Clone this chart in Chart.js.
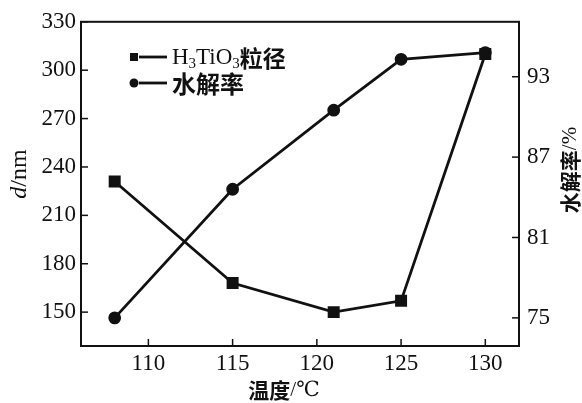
<!DOCTYPE html>
<html>
<head>
<meta charset="utf-8">
<script src="https://cdn.jsdelivr.net/npm/chart.js@4"></script>
<style>
  html, body { margin: 0; padding: 0; background: #fff; }
  #wrap { width: 582px; height: 403px; position: relative; }
</style>
</head>
<body>
<div id="wrap"><canvas id="chart"></canvas></div>
<script>
// values
const temps = [108, 115, 121, 125, 130];
const particleSize = [231, 168, 150, 157, 310];   // d/nm, left axis
const hydrolysisRate = [75.0, 84.6, 90.5, 94.3, 94.8]; // %, right axis

const xTicks = [110, 115, 120, 125, 130];
const leftTicks = [150, 180, 210, 240, 270, 300, 330];
const rightTicks = [75, 81, 87, 93];

const SERIF = "'Liberation Serif', 'DejaVu Serif', serif";
const CJK = "'Noto Sans CJK SC', sans-serif";
const INK = '#111';

function line(ctx, x1, y1, x2, y2) {
  ctx.beginPath();
  ctx.moveTo(x1, y1);
  ctx.lineTo(x2, y2);
  ctx.stroke();
}

// draws a run of [text, font, dy] pieces starting at x
function drawPieces(ctx, pieces, x, y) {
  let cx = x;
  for (const [text, font, dy] of pieces) {
    ctx.font = font;
    ctx.fillText(text, cx, y + (dy || 0));
    cx += ctx.measureText(text).width;
  }
}

function piecesWidth(ctx, pieces) {
  let w = 0;
  for (const [text, font] of pieces) {
    ctx.font = font;
    w += ctx.measureText(text).width;
  }
  return w;
}

const decor = {
  id: 'decor',
  afterDraw(chart) {
    const { ctx, chartArea: a, scales } = chart;
    ctx.save();
    ctx.strokeStyle = INK;
    ctx.fillStyle = INK;

    // frame
    ctx.lineWidth = 2;
    ctx.strokeRect(a.left, a.top, a.right - a.left, a.bottom - a.top);

    // inward ticks
    ctx.lineWidth = 1.5;
    scales.x.ticks.forEach(t => {
      const px = scales.x.getPixelForValue(t.value);
      line(ctx, px, a.bottom, px, a.bottom - 7);
    });
    scales.y.ticks.forEach(t => {
      const py = scales.y.getPixelForValue(t.value);
      line(ctx, a.left, py, a.left + 7, py);
    });
    scales.y1.ticks.forEach(t => {
      const py = scales.y1.getPixelForValue(t.value);
      line(ctx, a.right, py, a.right - 7, py);
    });

    // legend
    ctx.textBaseline = 'middle';
    ctx.lineWidth = 2.8;
    const lx = 134, ly1 = 57, ly2 = 83;
    ctx.fillRect(lx - 4, ly1 - 4, 8, 8);
    line(ctx, lx + 5, ly1, lx + 33, ly1);
    ctx.beginPath();
    ctx.arc(lx, ly2, 4.5, 0, Math.PI * 2);
    ctx.fill();
    line(ctx, lx + 5, ly2, lx + 33, ly2);
    const big = `23px ${SERIF}`, sub = `15px ${SERIF}`;
    drawPieces(ctx, [
      ['H', big], ['3', sub, 6], ['TiO', big], ['3', sub, 6], ['粒径', `bold 23px ${CJK}`]
    ], 172, ly1 + 1);
    drawPieces(ctx, [['水解率', `bold 24px ${CJK}`]], 172, ly2 + 1);

    // x title
    const xt = [['温度', `bold 21px ${CJK}`], ['/℃', `21px ${SERIF}`]];
    drawPieces(ctx, xt, 284 - piecesWidth(ctx, xt) / 2, 390);

    // left title, reads bottom to top
    const lt = [['d', `italic 24px ${SERIF}`], ['/nm', `24px ${SERIF}`]];
    ctx.save();
    ctx.translate(20, 174);
    ctx.rotate(-Math.PI / 2);
    drawPieces(ctx, lt, -piecesWidth(ctx, lt) / 2, 0);
    ctx.restore();

    // right title, also bottom to top
    const rt = [['水解率', `bold 21px ${CJK}`], ['/%', `21px ${SERIF}`]];
    ctx.save();
    ctx.translate(570, 170);
    ctx.rotate(-Math.PI / 2);
    drawPieces(ctx, rt, -piecesWidth(ctx, rt) / 2, 0);
    ctx.restore();

    ctx.restore();
  }
};

const tickFont = { family: SERIF, size: 23 };

new Chart(document.getElementById('chart'), {
  type: 'line',
  data: {
    datasets: [
      {
        label: 'H3TiO3粒径',
        data: temps.map((t, i) => ({ x: t, y: particleSize[i] })),
        yAxisID: 'y',
        borderColor: INK,
        backgroundColor: INK,
        borderWidth: 2.8,
        pointStyle: 'rect',
        pointRadius: 6.5,
        pointHoverRadius: 6.5,
        tension: 0,
        clip: false
      },
      {
        label: '水解率',
        data: temps.map((t, i) => ({ x: t, y: hydrolysisRate[i] })),
        yAxisID: 'y1',
        borderColor: INK,
        backgroundColor: INK,
        borderWidth: 2.8,
        pointStyle: 'circle',
        pointRadius: 5,
        pointHoverRadius: 5,
        tension: 0,
        clip: false
      }
    ]
  },
  options: {
    responsive: true,
    maintainAspectRatio: false,
    animation: false,
    layout: { padding: { top: 20, left: 0, right: 0, bottom: 0 } },
    plugins: {
      legend: { display: false },
      tooltip: { enabled: false }
    },
    scales: {
      x: {
        type: 'linear',
        min: 106,
        max: 132,
        afterBuildTicks: s => { s.ticks = xTicks.map(v => ({ value: v })); },
        afterFit: s => { s.height = 57; },
        grid: { display: false, drawTicks: false },
        border: { display: false },
        ticks: { color: INK, font: tickFont, padding: 4, maxRotation: 0 }
      },
      y: {
        position: 'left',
        min: 129,
        max: 330,
        afterBuildTicks: s => { s.ticks = leftTicks.map(v => ({ value: v })); },
        afterFit: s => { s.width = 81; },
        grid: { display: false, drawTicks: false },
        border: { display: false },
        ticks: { color: INK, font: tickFont, padding: 5 }
      },
      y1: {
        position: 'right',
        min: 72.9,
        max: 97.1,
        afterBuildTicks: s => { s.ticks = rightTicks.map(v => ({ value: v })); },
        afterFit: s => { s.width = 63; },
        grid: { display: false, drawTicks: false },
        border: { display: false },
        ticks: { color: INK, font: tickFont, padding: 8 }
      }
    }
  },
  plugins: [decor]
});
</script>
</body>
</html>
